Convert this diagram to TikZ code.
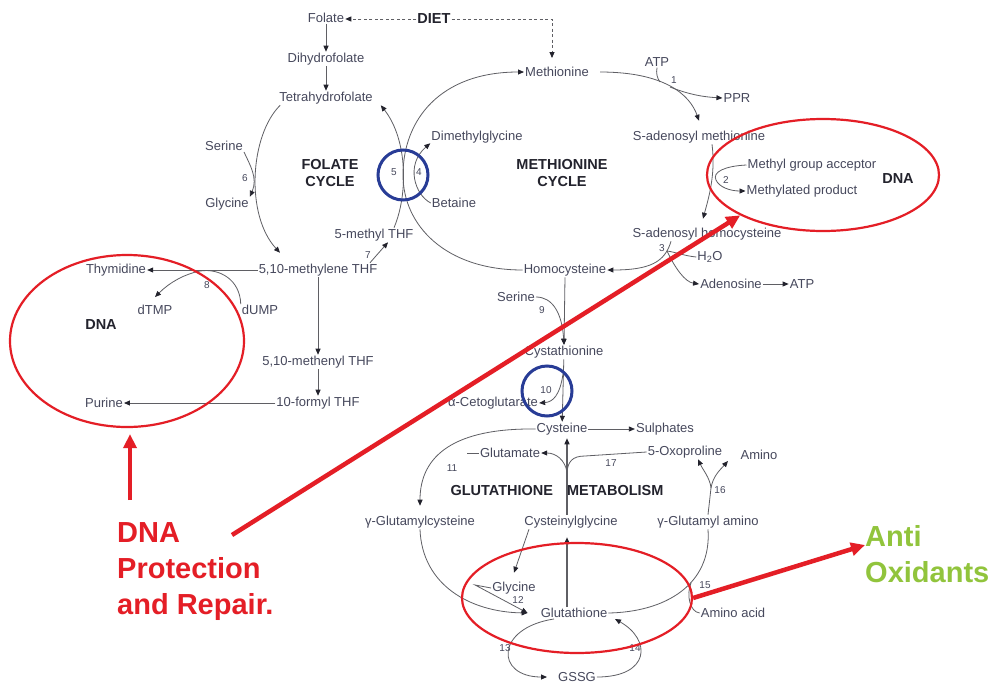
\documentclass[tikz,border=0pt]{standalone}
\usepackage{fontspec}
\setmainfont{Liberation Sans}
\usetikzlibrary{positioning}
\usetikzlibrary{arrows.meta}
\usetikzlibrary{shapes.geometric}
\definecolor{txtgray}{RGB}{70,72,92}
\definecolor{txtdark}{RGB}{35,35,45}
\definecolor{linegray}{RGB}{95,95,100}
\definecolor{notered}{RGB}{228,30,38}
\definecolor{notegreen}{RGB}{145,196,60}
\definecolor{ringblue}{RGB}{40,60,150}

\begin{document}
\begin{tikzpicture}[x=1pt,y=-1pt]
\tikzset{metab/.style={text=txtgray, font=\fontsize{13}{15}\selectfont, inner sep=1pt}}
\tikzset{title/.style={text=txtdark, font=\bfseries\fontsize{14.5}{17}\selectfont, align=center, inner sep=1pt}}
\tikzset{enz/.style={text=txtgray, font=\fontsize{10}{12}\selectfont, inner sep=0.5pt}}
\tikzset{link/.style={draw=linegray, line width=0.8pt}}
\tikzset{react/.style={link, -{Triangle[length=6pt,width=5pt,color=txtdark]}}}
\tikzset{note/.style={font=\bfseries\fontsize{29}{36}\selectfont, align=left, inner sep=0pt, anchor=north west}}
\tikzset{redring/.style={ellipse, draw=notered, line width=2.2pt, inner sep=0pt}}
\tikzset{bluering/.style={circle, draw=ringblue, line width=3pt, minimum size=50pt, inner sep=0pt}}
\tikzset{notearrow/.style={draw=notered, line width=4.5pt, -{Triangle[length=14pt,width=13pt]}}}
\fill[white] (0,0) rectangle (1002,686);
\useasboundingbox (0,0) rectangle (1002,686);

% folate side
\node[metab] (folate) at (326,18) {Folate};
\node[title] (diet) at (434,19) {DIET};
\node[metab, below of=folate, node distance=41pt] (dihydro) {Dihydrofolate};
\node[metab, below of=dihydro, node distance=39pt] (tetra) {Tetrahydrofolate};
\node[metab] (serineA) at (224,146) {Serine};
\node[metab] (glycineA) at (227,204) {Glycine};
\node[title] (folname) at (330,173) {FOLATE\\CYCLE};
\node[metab] (methTHF) at (374,235) {5-methyl THF};
\node[metab] (methylene) at (318,270) {5,10-methylene THF};
\node[metab, below of=methylene, node distance=92pt] (methenyl) {5,10-methenyl THF};
\node[metab, below of=methenyl, node distance=41pt] (formyl) {10-formyl THF};
\node[metab] (thymidine) at (116,270) {Thymidine};
\node[metab] (dtmp) at (155,310) {dTMP};
\node[metab] (dump) at (260,310) {dUMP};
\node[title] (dnaL) at (101,325) {DNA};
\node[metab] (purine) at (104,403) {Purine};

% methionine side
\node[metab] (methionine) at (557,72) {Methionine};
\node[metab] (atpA) at (657,62) {ATP};
\node[metab] (ppr) at (737,98) {PPR};
\node[metab] (dimethgly) at (477,137) {Dimethylglycine};
\node[metab] (betaine) at (454,203) {Betaine};
\node[title] (methname) at (562,173) {METHIONINE\\CYCLE};
\node[metab] (sam) at (699,137) {S-adenosyl methionine};
\node[metab] (acceptor) at (812,165) {Methyl group acceptor};
\node[metab] (methylated) at (802,191) {Methylated product};
\node[title] (dnaR) at (898,179) {DNA};
\node[metab] (sah) at (707,234) {S-adenosyl homocysteine};
\node[metab] (water) at (710,257) {H\textsubscript{2}O};
\node[metab] (adenosine) at (731,284) {Adenosine};
\node[metab] (atpB) at (802,284) {ATP};
\node[metab] (homocys) at (565,270) {Homocysteine};
\node[metab] (serineB) at (516,297) {Serine};
\node[metab] (cysta) at (564,352) {Cystathionine};
\node[metab] (cetoglut) at (493,403) {α-Cetoglutarate};

% glutathione side
\node[metab] (cysteine) at (562,429) {Cysteine};
\node[metab] (sulphates) at (665,429) {Sulphates};
\node[metab] (glutamate) at (510,453) {Glutamate};
\node[metab] (oxoprol) at (685,452) {5-Oxoproline};
\node[metab] (aminoT) at (759,455) {Amino};
\node[title] (glutname) at (557,491) {GLUTATHIONE\hspace{14pt}METABOLISM};
\node[metab] (gGlucys) at (420,522) {γ-Glutamylcysteine};
\node[metab] (cysgly) at (571,522) {Cysteinylglycine};
\node[metab] (gGluAA) at (708,522) {γ-Glutamyl amino};
\node[metab] (glycineB) at (514,588) {Glycine};
\node[metab] (glutathione) at (574,613) {Glutathione};
\node[metab] (aminoacid) at (733,613) {Amino acid};
\node[metab] (gssg) at (577,677) {GSSG};

% enzyme numbers
\node[enz] (e1) at (674,80) {1};
\node[enz] (e2) at (726,180) {2};
\node[enz] (e3) at (662,248) {3};
\node[enz] (e4) at (419,172) {4};
\node[enz] (e5) at (394,172) {5};
\node[enz] (e6) at (245,178) {6};
\node[enz] (e7) at (368,255) {7};
\node[enz] (e8) at (207,285) {8};
\node[enz] (e9) at (542,310) {9};
\node[enz] (e10) at (546,390) {10};
\node[enz] (e11) at (452,468) {11};
\node[enz] (e12) at (518,600) {12};
\node[enz] (e13) at (505,648) {13};
\node[enz] (e14) at (635,648) {14};
\node[enz] (e15) at (705,585) {15};
\node[enz] (e16) at (720,490) {16};
\node[enz] (e17) at (611,463) {17};

% diet
\draw[react, dash pattern=on 3pt off 2.5pt] (diet.west) -- (diet.west -| folate.east);
\draw[react, dash pattern=on 3pt off 2.5pt] (diet.east) -| ([xshift=-5pt,yshift=8pt]methionine.north);

% folate cycle
\draw[react] (folate) -- (dihydro);
\draw[react] (dihydro) -- (tetra);
\draw[react] ([xshift=2pt]tetra.south west) .. controls (250,135) and (245,215) .. ([xshift=-38pt,yshift=10pt]methylene.north);
\draw[react] (serineA.south east) .. controls (250,165) and (258,178) .. (glycineA.north east);
\draw[react] ([xshift=20pt]methTHF.north) .. controls (408,195) and (408,140) .. ([xshift=7pt]tetra.south east);
\draw[react] ([xshift=52pt]methylene.north) -- ([xshift=14pt]methTHF.south);
\draw[react] (methylene) -- (thymidine);
\draw[react] (dump.north west) .. controls (240,280) and (220,268) .. (200,271) .. controls (185,274) and (170,282) .. ([yshift=7pt]dtmp.north);
\draw[react] (methylene) -- (methenyl);
\draw[react] (methenyl) -- (formyl);
\draw[react] (formyl) -- (purine);

% methionine cycle
\draw[react] (homocys.west) .. controls (445,270) and (403,225) .. (403,175) .. controls (403,120) and (440,72) .. (methionine.west);
\draw[react] (betaine.west) .. controls (415,195) and (405,165) .. ([yshift=1pt]dimethgly.south west);
\draw[react] ([xshift=10pt]methionine.east) .. controls (665,72) and (690,95) .. ([yshift=9pt]sam.north);
\coordinate (atpjoin) at (660,82);
\coordinate (pprfork) at (670,87);
\draw[link] (atpA.south) .. controls (656,73) and (657,78) .. (atpjoin);
\draw[react] (pprfork) .. controls (690,95) and (705,97) .. (ppr.west);
\draw[react] ([xshift=13pt]sam.south) .. controls (716,175) and (708,200) .. ([xshift=-4pt,yshift=8pt]sah.north);
\draw[react] (acceptor.west) .. controls (725,166) and (712,172) .. (716,180) .. controls (719,187) and (730,191) .. (methylated.west);
\draw[react] ([xshift=-36pt]sah.south) .. controls (665,262) and (650,270) .. (homocys.east);
\coordinate (sahjoin) at (667,251);
\draw[link] (water.west) .. controls (685,256) and (675,252) .. (sahjoin);
\draw[react] (sahjoin) .. controls (675,268) and (685,282) .. (adenosine.west);
\draw[react] (adenosine) -- (atpB);

% transsulphuration
\draw[react] (homocys.south) -- (cysta.north);
\draw[react] (serineB.east) .. controls (552,297) and (562,312) .. (cysta.north);
\draw[react] (cysta) -- (cysteine);
\coordinate (ketofork) at (563,374);
\draw[react] (ketofork) .. controls (560,395) and (553,402) .. (cetoglut.east);

% glutathione metabolism
\draw[react] (cysteine) -- (sulphates);
\draw[react] (cysteine.west) .. controls (455,428) and (420,455) .. ([yshift=9pt]gGlucys.north);
\draw[link] (glutamate.west) -- ++(-12,0);
\coordinate (oxofork) at (567,472);
\draw[link] (oxoprol.west) -- (585,456) .. controls (572,456) and (568,462) .. (oxofork);
\draw[react] (oxofork) .. controls (565,460) and (556,453) .. (glutamate.east);
\draw[react, line width=1.3pt] ([xshift=-7pt]glutathione.north) -- ([xshift=-4pt,yshift=-8pt]cysgly.south);
\draw[react, line width=1.3pt] ([xshift=-4pt]cysgly.north) -- ([xshift=5pt,yshift=-2pt]cysteine.south);
\draw[react] ([xshift=-42pt]cysgly.south) -- ([yshift=8pt]glycineB.north);
\draw[react] (gGlucys.south) .. controls (422,585) and (470,612) .. ([xshift=-12pt]glutathione.west);
\draw[react] (glycineB.west) -- ++(-16,-3) -- ([xshift=-12pt]glutathione.west);
\draw[link] (glutathione.east) .. controls (665,612) and (712,585) .. (gGluAA.south);
\coordinate (aafork) at (691,583);
\draw[link] (aminoacid.west) .. controls (690,612) and (686,595) .. (aafork);
\coordinate (amfork) at (711,488);
\draw[link] (gGluAA.north) -- (amfork);
\draw[react] (amfork) .. controls (710,478) and (703,470) .. ([xshift=13pt]oxoprol.south);
\draw[react] (amfork) .. controls (713,476) and (720,470) .. ([xshift=-31pt]aminoT.south);
\draw[react] ([xshift=-20pt]glutathione.south) .. controls (495,628) and (495,677) .. ([xshift=-10pt]gssg.west);
\draw[react] (gssg.east) .. controls (650,677) and (652,640) .. ([xshift=41pt]glutathione.south);

% highlights
\node[redring, minimum width=234pt, minimum height=172pt] (dnaring) at (127,341) {};
\node[redring, minimum width=232pt, minimum height=112pt] (methring) at (823,175) {};
\node[redring, minimum width=230pt, minimum height=110pt] (gshring) at (577,598) {};
\node[bluering] (ring45) at (403,175) {};
\node[bluering] (ring10) at (547,391) {};

\node[note, text=notered] (protect) at (117,522) {DNA\\Protection\\and Repair.};
\node[note, text=notegreen] (anti) at (865,525) {Anti\\Oxidants};
\draw[notearrow] ([xshift=13pt,yshift=22pt]protect.north west) -- ([xshift=3pt,yshift=-6pt]dnaring.south);
\draw[notearrow] ([xshift=115pt,yshift=-13pt]protect.north west) -- (methring.south west);
\draw[notearrow] (gshring.east) -- ([yshift=-20pt]anti.north west);
\end{tikzpicture}
\end{document}
